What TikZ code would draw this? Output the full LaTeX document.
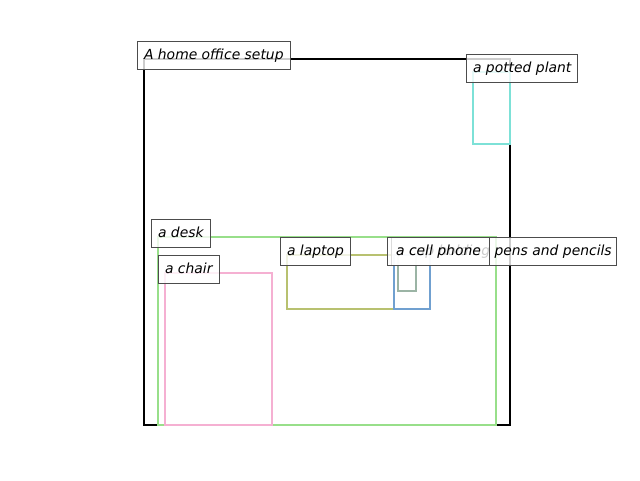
\documentclass[tikz,border=0pt]{standalone}
\usepackage{fontspec}
\newfontfamily\lblfont{DejaVu Sans}
\definecolor{roomc}{RGB}{0,0,0}
\definecolor{deskc}{RGB}{152,223,138}
\definecolor{chairc}{RGB}{245,176,210}
\definecolor{laptopc}{RGB}{184,193,112}
\definecolor{phonec}{RGB}{112,160,208}
\definecolor{cupc}{RGB}{155,180,165}
\definecolor{plantc}{RGB}{125,225,215}
\tikzset{
  obj/.style={line width=1.8pt},
  lbl/.style={draw=black!70, line width=0.75pt, fill=white, fill opacity=0.8, text opacity=1,
    anchor=north west, font={\lblfont\itshape\fontsize{10.42}{12}\selectfont},
    inner xsep=4.9pt, inner ysep=5.4pt, text height=7.9pt, text depth=2.5pt}
}
\begin{document}
\begin{tikzpicture}[x=0.75pt,y=-0.75pt]
\useasboundingbox (0,0) rectangle (640,480);
% objects
\draw[obj, roomc] (144,59) coordinate (roomNW) rectangle (510,425);
\draw[obj, plantc] (473,72) coordinate (plantNW) rectangle (510,144);
\draw[obj, deskc] (158,237) coordinate (deskNW) rectangle (496,425);
\draw[obj, chairc] (165,273) coordinate (chairNW) rectangle (272,425);
\draw[obj, laptopc] (287,255) coordinate (laptopNW) rectangle (394,309);
\draw[obj, cupc] (398,255) coordinate (cupNW) rectangle (416,291);
\draw[obj, phonec] (394,255) coordinate (phoneNW) rectangle (430,309);
% labels
\node[lbl] (lroom) at (137,41) {A home office setup};
\node[lbl] (lplant) at (466,54) {a potted plant};
\node[lbl] (ldesk) at (151,219) {a desk};
\node[lbl] (lchair) at (158,255) {a chair};
\node[lbl] (llaptop) at (280,237) {a laptop};
\node[lbl, inner xsep=3.4pt] (lcup) at (391,237) {a cup holding pens and pencils};
\node[lbl, minimum width=76.5pt] (lphone) at (387,237) {a cell phone};
\end{tikzpicture}
\end{document}
